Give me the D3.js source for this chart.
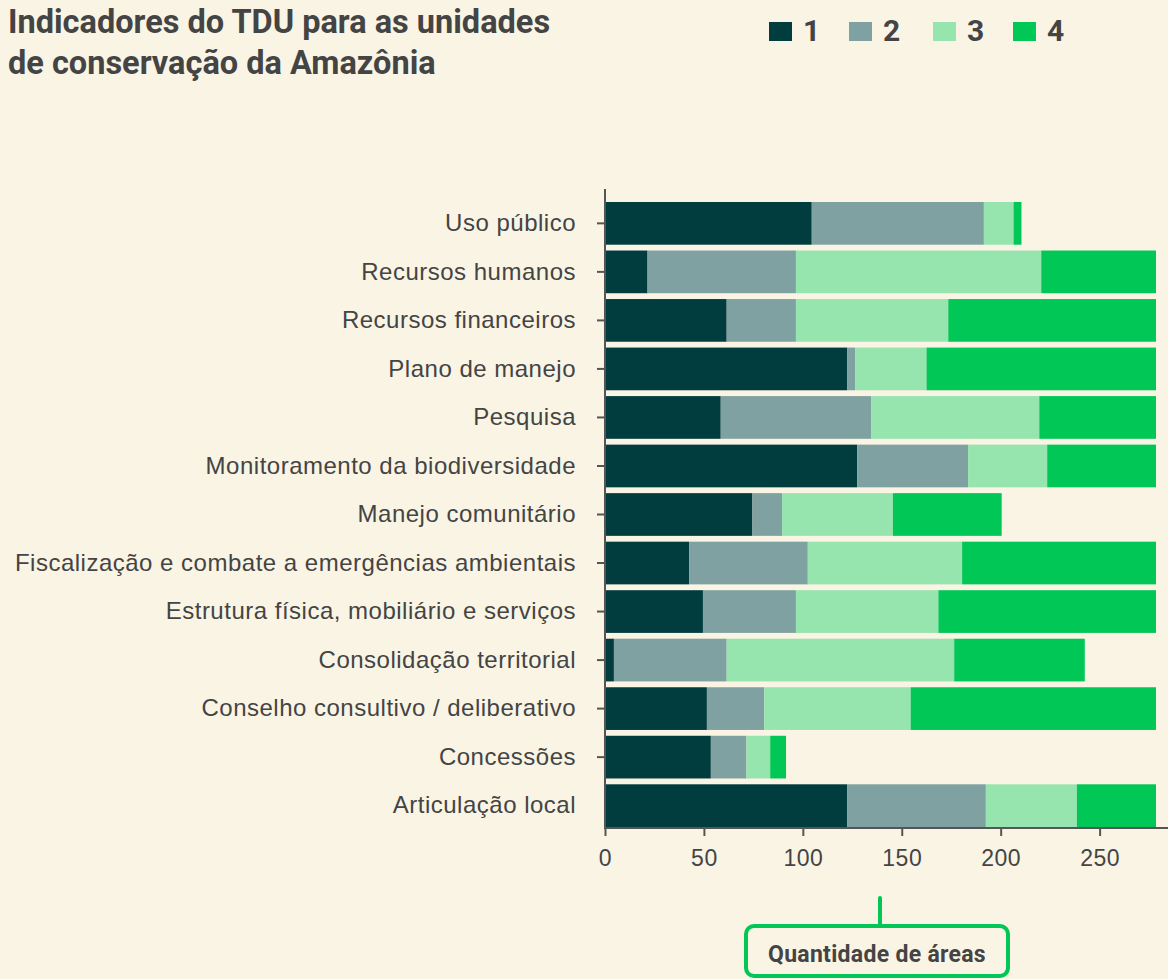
<!DOCTYPE html>
<html lang="pt-BR">
<head>
<meta charset="utf-8">
<script src="https://cdn.jsdelivr.net/npm/d3@7"></script>
<style>
  html, body { margin: 0; padding: 0; background: #faf4e4; }
  svg { display: block; font-family: Roboto, "Noto Sans", sans-serif; }
</style>
</head>
<body>
<svg id="chart" width="1168" height="979"></svg>
<script>
// Indicator categories, top to bottom
const categories = [
  "Uso público",
  "Recursos humanos",
  "Recursos financeiros",
  "Plano de manejo",
  "Pesquisa",
  "Monitoramento da biodiversidade",
  "Manejo comunitário",
  "Fiscalização e combate a emergências ambientais",
  "Estrutura física, mobiliário e serviços",
  "Consolidação territorial",
  "Conselho consultivo / deliberativo",
  "Concessões",
  "Articulação local"
];

// Number of areas per level (1 to 4) for each indicator
const level1 = [104, 21, 61, 122, 58, 127, 74, 42, 49, 4, 51, 53, 122];
const level2 = [ 87, 75, 35,   4, 76,  56, 15, 60, 47, 57, 29, 18, 70];
const level3 = [ 15,124, 77,  36, 85,  40, 56, 78, 72,115, 74, 12, 46];
const level4 = [  4, 58,105, 116, 59,  55, 55, 98,110, 66,124,  8, 40];

const levels = ["1", "2", "3", "4"];
const colors = ["#013c3e", "#7fa1a1", "#96e4ae", "#00c756"];
const xTicks = [0, 50, 100, 150, 200, 250];
const xMax = 278;

const title = ["Indicadores do TDU para as unidades", "de conservação da Amazônia"];
const axisTitle = "Quantidade de áreas";

const rows = categories.map((c, i) => ({
  category: c, "1": level1[i], "2": level2[i], "3": level3[i], "4": level4[i]
}));

const svg = d3.select("#chart");
const textColor = "#444444";
const plotLeft = 605, plotRight = 1168, plotTop = 189, plotBottom = 828;

const x = d3.scaleLinear().domain([0, xMax]).range([plotLeft, 1155]);
const y = d3.scaleBand().domain(categories).range([202, 827]).paddingInner(0.12).paddingOuter(0);
const color = d3.scaleOrdinal().domain(levels).range(colors);

const stacked = d3.stack().keys(levels)(rows);

// Stacked bars
svg.append("g")
  .selectAll("g")
  .data(stacked)
  .join("g")
  .attr("fill", d => color(d.key))
  .selectAll("rect")
  .data(d => d)
  .join("rect")
  .attr("x", d => x(d[0]) + 1)
  .attr("y", d => y(d.data.category))
  .attr("width", d => Math.max(0, x(d[1]) - x(d[0])))
  .attr("height", y.bandwidth());

// Y axis
const yAxis = svg.append("g")
  .attr("transform", `translate(${plotLeft},0)`)
  .call(d3.axisLeft(y).tickSize(8).tickPadding(21));
yAxis.select(".domain").remove();
yAxis.append("line")
  .attr("x1", 0).attr("x2", 0).attr("y1", plotTop).attr("y2", plotBottom)
  .attr("stroke", "#555").attr("stroke-width", 2);
yAxis.selectAll(".tick line").attr("stroke", "#555").attr("stroke-width", 2);
yAxis.selectAll(".tick").filter(d => d === "Articulação local").select("line").remove();
yAxis.selectAll(".tick text")
  .attr("fill", textColor)
  .style("font-size", "24px")
  .style("letter-spacing", "0.5px");

// X axis
const xAxis = svg.append("g")
  .attr("transform", `translate(0,${plotBottom})`)
  .call(d3.axisBottom(x).tickValues(xTicks).tickSize(8).tickPadding(14));
xAxis.select(".domain").remove();
xAxis.append("line")
  .attr("x1", plotLeft - 1).attr("x2", plotRight).attr("y1", 0).attr("y2", 0)
  .attr("stroke", "#555").attr("stroke-width", 2);
xAxis.selectAll(".tick line").attr("stroke", "#555").attr("stroke-width", 2);
xAxis.selectAll(".tick text")
  .attr("fill", textColor)
  .style("font-size", "23px")
  .style("letter-spacing", "0.5px");

// Title
svg.append("text")
  .attr("x", 8).attr("y", 33)
  .attr("fill", textColor)
  .style("font-size", "32.5px").style("font-weight", 700)
  .selectAll("tspan")
  .data(title)
  .join("tspan")
  .attr("x", 8)
  .attr("dy", (d, i) => i === 0 ? 0 : 41)
  .text(d => d);

// Legend
const legend = svg.append("g").attr("transform", "translate(769,0)");
const item = legend.selectAll("g")
  .data(levels)
  .join("g")
  .attr("transform", (d, i) => `translate(${[0, 80, 164, 244][i]},0)`);
item.append("rect")
  .attr("x", 0).attr("y", 22).attr("width", 23).attr("height", 19)
  .attr("fill", d => color(d));
item.append("text")
  .attr("x", 34).attr("y", 41)
  .attr("fill", textColor)
  .style("font-size", "30px").style("font-weight", 700)
  .text(d => d);

// Axis title callout
const cx = 877;
svg.append("line")
  .attr("x1", 880).attr("x2", 880).attr("y1", 898).attr("y2", 925)
  .attr("stroke", "#00c756").attr("stroke-width", 4).attr("stroke-linecap", "round");
svg.append("rect")
  .attr("x", 746).attr("y", 926).attr("width", 262).attr("height", 50)
  .attr("rx", 8).attr("ry", 8)
  .attr("fill", "none").attr("stroke", "#00c756").attr("stroke-width", 4);
svg.append("text")
  .attr("x", cx).attr("y", 962)
  .attr("text-anchor", "middle")
  .attr("fill", textColor)
  .style("font-size", "23px").style("font-weight", 700)
  .style("letter-spacing", "0.3px")
  .text(axisTitle);
</script>
</body>
</html>
